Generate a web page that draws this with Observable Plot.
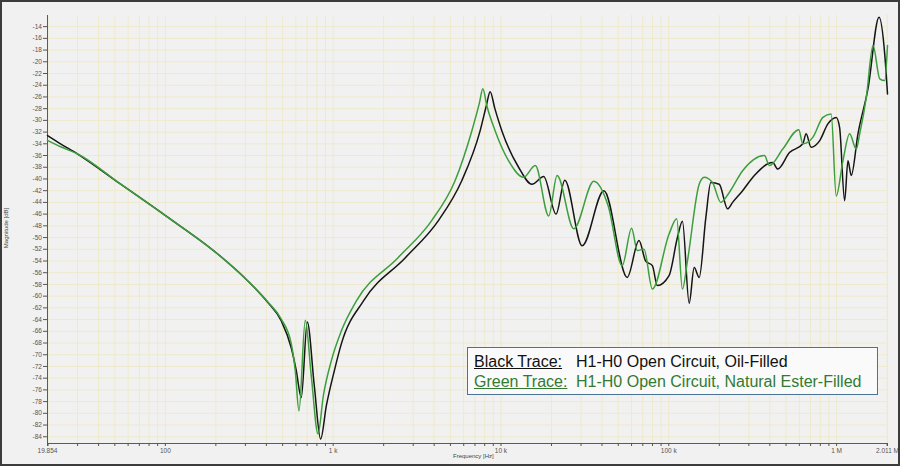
<!DOCTYPE html>
<html>
<head>
<meta charset="utf-8">
<script src="https://cdn.jsdelivr.net/npm/d3@7"></script>
<script src="https://cdn.jsdelivr.net/npm/@observablehq/plot@0.6"></script>
<style>
  html, body { margin: 0; padding: 0; background: #f1f1f1; }
  #wrap { position: relative; width: 900px; height: 466px; overflow: hidden; font-family: "Liberation Sans", Arial, sans-serif; }
  #frame { position: absolute; left: 0; top: 0; width: 900px; height: 466px; box-sizing: border-box; border: 2px solid #3c3c3c; pointer-events: none; }
  .axlab { position: absolute; font-size: 6px; color: #444; white-space: nowrap; }
  #legend { position: absolute; left: 467px; top: 347px; width: 411px; height: 48px; box-sizing: border-box; border: 1.5px solid #4a7394; background: #fafafa; font-size: 16px; line-height: 18px; }
  #legend div { position: absolute; white-space: nowrap; }
</style>
</head>
<body>
<div id="wrap">
  <div id="chart"></div>
  <div class="axlab" style="left:453px; top:453px;">Frequency [Hz]</div>
  <div class="axlab" style="left:6px; top:228px; transform: translate(-50%,-50%) rotate(-90deg);">Magnitude [dB]</div>
  <div id="legend">
    <div style="left:6px; top:5px; color:#111; text-decoration: underline;">Black Trace:</div>
    <div style="left:108px; top:5px; color:#111;">H1-H0 Open Circuit, Oil-Filled</div>
    <div style="left:6px; top:24.5px; color:#327a32; text-decoration: underline;">Green Trace:</div>
    <div style="left:108px; top:24.5px; color:#327a32;">H1-H0 Open Circuit, Natural Ester-Filled</div>
  </div>
  <div id="frame"></div>
</div>
<script>
// ---- data ----
const blackFreq = [19.85, 23.74, 29.87, 54.22, 100.7, 205.2, 310.1, 408.3, 490.4, 562.8, 603.0, 645.8, 701.3, 772.2, 842.3, 911.1, 1017, 1120, 1516, 2702, 4239, 5840, 7511, 8182, 8620, 9199, 10130, 12740, 15300, 17980, 21300, 24010, 30460, 41060, 56560, 66460, 72800, 79830, 85500, 100400, 112600, 120600, 132300, 141700, 151800, 166300, 178100, 199900, 224100, 240100, 275500, 323600, 416300, 446000, 524000, 629200, 658400, 705200, 791500, 887500, 995000, 1042000, 1117000, 1169000, 1223000, 1341000, 1539000, 1791000, 1936000, 2011000];
const blackDb = [-32.6, -34.0, -35.7, -40.9, -46.3, -52.8, -57.4, -61.1, -64.2, -68.8, -72.7, -77.3, -64.4, -75.3, -84.4, -78.7, -72.7, -68.1, -60.8, -53.4, -47.1, -40.3, -31.8, -27.5, -25.1, -28.0, -31.8, -38.0, -40.9, -39.6, -46.0, -40.2, -51.4, -42.0, -56.8, -50.5, -54.0, -54.8, -58.2, -56.5, -50.0, -47.2, -61.2, -55.1, -56.8, -46.6, -40.6, -40.9, -45.1, -44.0, -42.0, -39.4, -37.2, -38.3, -35.5, -34.0, -32.3, -34.6, -33.5, -30.6, -29.5, -31.2, -43.7, -36.9, -39.4, -32.3, -24.6, -12.4, -18.7, -25.5];

const greenFreq = [19.85, 23.74, 29.87, 54.22, 100.7, 205.2, 310.1, 408.3, 490.4, 562.8, 594.7, 625.6, 682.3, 740.8, 812.7, 874.3, 975.9, 1120, 1376, 2444, 3865, 5326, 6704, 7430, 7798, 8239, 9238, 11110, 13650, 16020, 19260, 21600, 27180, 35780, 43560, 52820, 60040, 64930, 71210, 79830, 100400, 111500, 120600, 129200, 151800, 162600, 182300, 204300, 229400, 275500, 371400, 397900, 477900, 595400, 629200, 722000, 828500, 928600, 995000, 1091000, 1196000, 1310000, 1373000, 1503000, 1649000, 1808000, 1936000, 2011000];
const greenDb = [-33.4, -34.5, -35.7, -40.9, -46.3, -52.8, -57.4, -61.0, -63.9, -68.1, -72.7, -79.6, -64.1, -73.6, -83.5, -77.0, -71.0, -65.9, -60.8, -53.4, -47.1, -40.3, -31.8, -27.1, -24.6, -27.5, -31.8, -36.9, -39.7, -37.7, -46.3, -39.4, -48.5, -40.4, -44.6, -54.8, -48.4, -52.2, -52.0, -58.8, -49.4, -46.8, -58.8, -54.0, -40.9, -39.7, -40.6, -44.0, -42.3, -38.6, -36.0, -37.7, -34.9, -31.6, -34.0, -32.9, -29.5, -28.9, -42.9, -36.9, -32.3, -34.9, -32.3, -26.1, -17.2, -22.9, -23.2, -17.2];

const yTicks = [-84, -82, -80, -78, -76, -74, -72, -70, -68, -66, -64, -62, -60, -58, -56, -54, -52, -50, -48, -46, -44, -42, -40, -38, -36, -34, -32, -30, -28, -26, -24, -22, -20, -18, -16, -14];
const xLabelValues = [19.854, 100, 1000, 10000, 100000, 1000000, 2011000];
const xLabelTexts = ["19.854", "100", "1 k", "10 k", "100 k", "1 M", "2.011 M"];
const decades = [10, 100, 1000, 10000, 100000, 1000000];
const multipliers = [1, 2, 3, 4, 5, 6, 7, 8, 9];

const xDomain = [19.854, 2011000];
const yDomain = [-85.15, -12.1];

// ---- build ----
const black = blackFreq.map((f, i) => ({f, db: blackDb[i]}));
const green = greenFreq.map((f, i) => ({f, db: greenDb[i]}));
const minorTicks = [];
for (const d of decades) for (const m of multipliers) {
  const v = d * m;
  if (v > xDomain[0] && v <= xDomain[1]) minorTicks.push(v);
}
const xTicksAll = [xDomain[0], ...minorTicks, xDomain[1]];
const labelMap = new Map(xLabelValues.map((v, i) => [v, xLabelTexts[i]]));

const chart = Plot.plot({
  width: 900,
  height: 466,
  marginLeft: 47,
  marginRight: 13,
  marginTop: 15,
  marginBottom: 23,
  style: {background: "transparent", fontFamily: "Liberation Sans, Arial, sans-serif", overflow: "visible"},
  x: {type: "log", domain: xDomain},
  y: {domain: yDomain},
  marks: [
    Plot.gridX(xTicksAll, {stroke: "#efeacb", strokeOpacity: 1, strokeWidth: 1}),
    Plot.gridY(yTicks, {stroke: "#efeacb", strokeOpacity: 1, strokeWidth: 1}),
    Plot.ruleX([xDomain[0]], {stroke: "#5a5a5a", strokeWidth: 1}),
    Plot.ruleY([yDomain[0]], {stroke: "#5a5a5a", strokeWidth: 1}),
    Plot.axisY(yTicks, {tickSize: 4, tickPadding: 1.5, fontSize: 6.5, color: "#555", tickFormat: d => String(d), label: null}),
    Plot.axisX(xTicksAll, {tickSize: 3, tickPadding: 2, fontSize: 6.5, color: "#555", tickFormat: d => labelMap.get(d) ?? "", label: null}),
    Plot.line(black, {x: "f", y: "db", stroke: "#151515", strokeWidth: 1.5, curve: "monotone-x"}),
    Plot.line(green, {x: "f", y: "db", stroke: "#3d9e3d", strokeWidth: 1.5, curve: "monotone-x"})
  ]
});
document.getElementById("chart").appendChild(chart);
</script>
</body>
</html>
